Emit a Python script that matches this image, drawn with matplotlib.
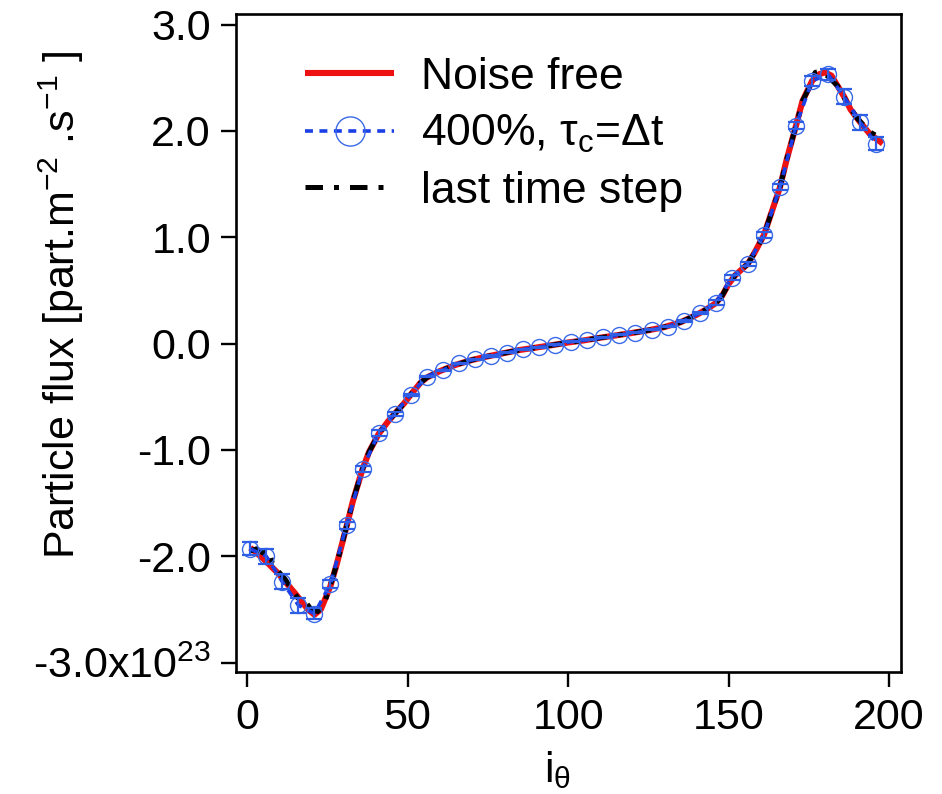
import matplotlib
matplotlib.use("Agg")
import matplotlib.pyplot as plt
from matplotlib.lines import Line2D

plt.rcParams['font.family'] = ['Liberation Sans', 'DejaVu Sans']
plt.rcParams['mathtext.fontset'] = 'custom'
plt.rcParams['mathtext.rm'] = 'Liberation Sans'
plt.rcParams['mathtext.it'] = 'Liberation Sans:italic'

# Noise free curve
nf_x = [1, 5, 10, 15, 19, 21, 23, 26, 28, 31, 33, 36, 38, 41, 44, 46, 49, 51, 54, 56,
        60, 65, 70, 75, 80, 85, 90, 95, 100, 105, 110, 115, 120, 125, 130, 135, 140,
        143, 146, 148, 150, 152, 156, 158, 161, 163, 166, 168, 171, 173, 176, 178,
        180, 182, 184, 186, 188, 191, 194, 198]
nf_y = [-1.92, -2.02, -2.17, -2.35, -2.50, -2.55, -2.50, -2.28, -2.07, -1.72, -1.48,
        -1.18, -1.02, -0.85, -0.73, -0.66, -0.56, -0.48, -0.37, -0.32, -0.26, -0.20,
        -0.155, -0.12, -0.09, -0.06, -0.038, -0.015, 0.01, 0.03, 0.055, 0.077, 0.10,
        0.125, 0.155, 0.20, 0.27, 0.32, 0.38, 0.45, 0.56, 0.64, 0.75, 0.85, 1.02, 1.20,
        1.47, 1.72, 2.05, 2.28, 2.47, 2.53, 2.55, 2.52, 2.42, 2.32, 2.20, 2.08, 1.97, 1.88]

# 400% noise, tau_c = dt (markers every 5 points)
ns_x = [1, 6, 11, 16, 21, 26, 31, 36, 41, 46, 51, 56, 61, 66, 71, 76, 81, 86, 91, 96,
        101, 106, 111, 116, 121, 126, 131, 136, 141, 146, 151, 156, 161, 166, 171, 176,
        181, 186, 191, 196]
ns_y = [-1.93, -2.00, -2.24, -2.46, -2.54, -2.26, -1.71, -1.18, -0.84, -0.66, -0.48,
        -0.31, -0.25, -0.185, -0.148, -0.117, -0.085, -0.054, -0.035, -0.013, 0.018,
        0.034, 0.059, 0.081, 0.103, 0.128, 0.159, 0.213, 0.285, 0.385, 0.62, 0.75, 1.02,
        1.47, 2.05, 2.47, 2.53, 2.32, 2.08, 1.88]
ns_err = [0.06, 0.07, 0.07, 0.07, 0.05, 0.04, 0.03, 0.03, 0.03, 0.02, 0.01, 0.005,
          0.005, 0.005, 0.005, 0.005, 0.005, 0.005, 0.005, 0.005, 0.005, 0.005, 0.005,
          0.005, 0.005, 0.005, 0.005, 0.01, 0.01, 0.02, 0.02, 0.02, 0.03, 0.03, 0.03,
          0.05, 0.05, 0.07, 0.07, 0.06]

# last time step
lt_x = [1, 3, 5, 7, 8, 10, 12, 14, 16, 18, 20, 22, 24, 26, 28, 31, 33, 36, 38, 41, 44,
        46, 49, 51, 54, 56, 60, 65, 70, 75, 80, 85, 90, 95, 100, 105, 110, 115, 120, 125,
        130, 135, 140, 143, 146, 148, 150, 152, 156, 158, 161, 163, 166, 168, 171, 173,
        175, 176, 177, 179, 181, 184, 187, 190, 194, 198]
lt_y = [-1.95, -1.93, -1.97, -1.95, -2.08, -2.15, -2.22, -2.32, -2.40, -2.42, -2.50,
        -2.52, -2.45, -2.27, -2.07, -1.72, -1.48, -1.18, -1.02, -0.85, -0.73, -0.66,
        -0.56, -0.48, -0.37, -0.32, -0.26, -0.20, -0.155, -0.12, -0.09, -0.06, -0.038,
        -0.015, 0.01, 0.03, 0.055, 0.077, 0.10, 0.125, 0.155, 0.20, 0.27, 0.32, 0.38,
        0.45, 0.56, 0.64, 0.75, 0.85, 1.02, 1.20, 1.47, 1.72, 2.05, 2.28, 2.40, 2.50,
        2.55, 2.56, 2.51, 2.42, 2.26, 2.12, 1.99, 1.92]

xticks = [0, 50, 100, 150, 200]
yticks = [-3, -2, -1, 0, 1, 2, 3]
ytick_labels = ['-3.0x10$^{\\mathregular{23}}$', '-2.0', '-1.0', '0.0', '1.0', '2.0', '3.0']

fig = plt.figure(figsize=(9.42, 7.94), dpi=100)
ax = fig.add_axes([0.2505, 0.1537, 0.706, 0.8287])

red, = ax.plot(nf_x, nf_y, color='#ee1111', lw=4.4, zorder=2, solid_capstyle='butt')
blk, = ax.plot(lt_x, lt_y, color='black', lw=3.6, ls=(0, (3.5, 2.2, 1, 2.2)), zorder=3)
blue, = ax.plot(ns_x, ns_y, color='#1a3fe6', lw=2.6, ls=(0, (2.2, 1.8)), zorder=4,
                marker='o', markersize=11.5, markerfacecolor='none',
                markeredgecolor='#3a6ae8', markeredgewidth=1.0)
ax.errorbar(ns_x, ns_y, yerr=ns_err, fmt='none', ecolor='#2f5ee6', elinewidth=1.6,
            capsize=6, capthick=1.6, zorder=5)

ax.set_xlim(-3.43, 203.7)
ax.set_ylim(-3.088, 3.099)
ax.set_xticks(xticks)
ax.set_xticklabels([str(v) for v in xticks])
ax.set_yticks(yticks)
ax.set_yticklabels(ytick_labels)

for s in ax.spines.values():
    s.set_linewidth(1.9)
ax.tick_params(axis='both', which='both', direction='out', length=11, width=1.7,
               labelsize=31, top=False, right=False)
ax.tick_params(axis='x', pad=8)
ax.tick_params(axis='y', pad=7)

ax.set_xlabel('i$_{\\mathregular{\u03b8}}$', fontsize=31)
ax.xaxis.set_label_coords(0.484, -0.118)
ax.set_ylabel('Particle flux [part.m$^{\\mathregular{-2}}$ .s$^{\\mathregular{-1}}$ ]',
              fontsize=31)
ax.yaxis.set_label_coords(-0.262, 0.558)
ax.yaxis.label.set_va('center')

leg_blue = Line2D([], [], color='#1a3fe6', lw=2.6, ls=(0, (2.2, 1.8)), marker='o',
                  markersize=21, markerfacecolor='none', markeredgecolor='#3a6ae8',
                  markeredgewidth=1.0)
ax.legend([red, leg_blue, blk],
          ['Noise free', '400%, \u03c4$_{\\mathregular{c}}$=\u0394t', 'last time step'],
          loc='upper left', bbox_to_anchor=(0.104, 0.935), frameon=False, fontsize=32,
          handlelength=2.0, handletextpad=0.6, labelspacing=0.35, numpoints=1,
          borderpad=0, borderaxespad=0)

fig.savefig('out.png', dpi=100)
